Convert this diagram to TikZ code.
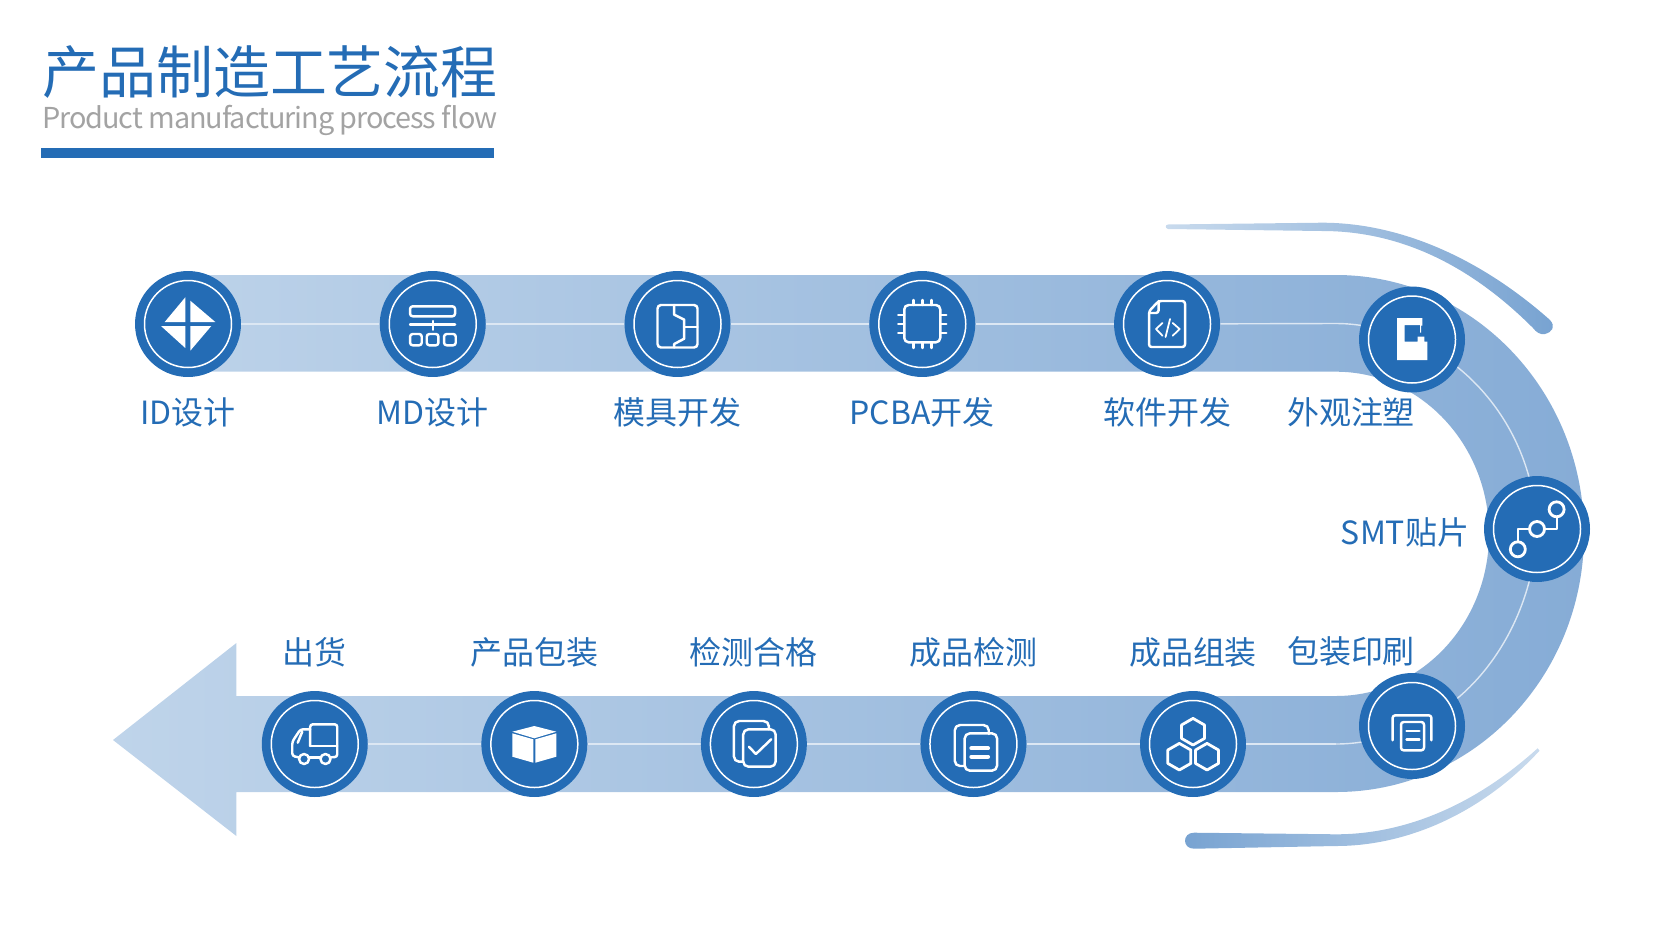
\documentclass[tikz,border=0pt]{standalone}
\usepackage{fontspec}
\usetikzlibrary{positioning,backgrounds}
\setmainfont{Noto Sans CJK SC}
\newfontfamily\subtitlefont[LetterSpace=-3.7]{Noto Sans CJK SC}
\definecolor{mainblue}{HTML}{246CB5}
\definecolor{bandleft}{HTML}{BFD4EA}
\definecolor{bandright}{HTML}{86ACD6}
\definecolor{linkwhite}{HTML}{DCE7F3}
\definecolor{subgrey}{HTML}{A3A3A3}

\begin{document}
\begin{tikzpicture}[x=0.02cm, y=-0.02cm, node distance=2.762cm]
\tikzset{
stepdot/.style    = {circle, fill=mainblue, minimum size=2.12cm, inner sep=0pt},
steplabel/.style  = {text=mainblue, font=\fontsize{18.2}{18.2}\selectfont, inner sep=0pt, text height=14pt, text depth=3pt},
ringline/.style   = {draw=white, line width=0.85pt},
linkline/.style   = {draw=linkwhite, line width=0.8pt},
iconline/.style   = {draw=white, line width=1.4pt, rounded corners=1.5pt, line cap=round, line join=round},
iconfill/.style   = {fill=white},
}
    \useasboundingbox (0,0) rectangle (1679,940);

    % Title
    \node [anchor=west, text=mainblue, inner sep=0pt, font=\fontsize{32.4}{32.4}\selectfont] (title) at (42,72) {产品制造工艺流程};
    \node [anchor=west, text=subgrey, inner sep=0pt, font=\subtitlefont\fontsize{16.4}{16.4}\selectfont] (subtitle) at (42,120) {Product manufacturing process flow};
    \fill [mainblue] (41,148) rectangle (494,158);

    % Band with arrow head
    \begin{scope}[on background layer]
    \shade [left color=bandleft, right color=bandright]
        (188,275) -- (1336,275)
        .. controls (1473,275) and (1584,391) .. (1584,534)
        .. controls (1584,677) and (1473,792) .. (1336,792)
        -- (236.4,792) -- (236.4,836) -- (113,740) -- (236.4,643) -- (236.4,696) -- (1336,696)
        .. controls (1420.5,696) and (1489,623.5) .. (1489,534)
        .. controls (1489,444.5) and (1420.5,371.7) .. (1336,371.7)
        -- (188,371.7) -- cycle;
    \end{scope}

    % Outer accents
    \shade [left color=bandleft!85!white, right color=bandright!85!mainblue]
        (1168,224.5) -- (1322,222.7)
        .. controls (1400,222.7) and (1480,258) .. (1550,320)
        .. controls (1556,327) and (1552,332) .. (1545,334)
        .. controls (1540,335) and (1536,332) .. (1533,328)
        .. controls (1470,265) and (1400,231) .. (1322,231)
        -- (1168,229) .. controls (1165,228) and (1165,225) .. (1168,224.5) -- cycle;
    \shade [left color=bandright!85!mainblue, right color=bandleft!85!white]
        (1194,832.7) -- (1336,834.3)
        .. controls (1405,834.3) and (1475,805) .. (1537.6,748.3)
        -- (1539.5,750.7)
        .. controls (1480,815) and (1405,846) .. (1336,846)
        -- (1194,848.7) .. controls (1182,848.7) and (1182,832.7) .. (1194,832.7) -- cycle;

    % Main nodes
    \node [stepdot]                    (idstep)     at (188,324) {};
    \node [stepdot, right=of idstep]   (mdstep)     {};
    \node [stepdot, right=of mdstep]   (mouldstep)  {};
    \node [stepdot, right=of mouldstep] (pcbastep)  {};
    \node [stepdot, right=of pcbastep] (softstep)   {};
    \node [stepdot]                    (injstep)    at (1412,339.5) {};
    \node [stepdot]                    (smtstep)    at (1537,529) {};
    \node [stepdot]                    (printstep)  at (1412,726) {};
    \node [stepdot]                    (asmstep)    at (1193,744) {};
    \node [stepdot, left=2.258cm of asmstep]   (teststep)  {};
    \node [stepdot, left=2.258cm of teststep]  (passstep)  {};
    \node [stepdot, left=2.258cm of passstep]  (packstep)  {};
    \node [stepdot, left=2.258cm of packstep]  (shipstep)  {};

    \foreach \n in {idstep,mdstep,mouldstep,pcbastep,softstep,injstep,smtstep,printstep,asmstep,teststep,passstep,packstep,shipstep}
        \draw [ringline] (\n) circle (43.5);

    % Labels
    \node [steplabel, below=0.45cm of idstep]    (idlabel)    {ID设计};
    \node [steplabel, below=0.45cm of mdstep]    (mdlabel)    {MD设计};
    \node [steplabel, below=0.45cm of mouldstep] (mouldlabel) {模具开发};
    \node [steplabel, below=0.45cm of pcbastep]  (pcbalabel)  {PCBA开发};
    \node [steplabel, below=0.45cm of softstep]  (softlabel)  {软件开发};
    \node [steplabel] (injlabel)   at (1351,415) {外观注塑};
    \node [steplabel] (smtlabel)   at (1405,535) {SMT贴片};
    \node [steplabel] (printlabel) at (1351,654) {包装印刷};
    \node [steplabel, above=0.42cm of asmstep]   (asmlabel)   {成品组装};
    \node [steplabel, above=0.42cm of teststep]  (testlabel)  {成品检测};
    \node [steplabel, above=0.42cm of passstep]  (passlabel)  {检测合格};
    \node [steplabel, above=0.42cm of packstep]  (packlabel)  {产品包装};
    \node [steplabel, above=0.42cm of shipstep]  (shiplabel)  {出货};

    % Main edges
    \coordinate (bendtop) at (1336,323.5);
    \coordinate (bendbot) at (1336,744);
    \begin{scope}[on background layer]
    \draw [linkline] (idstep) -- (mdstep);
    \draw [linkline] (mdstep) -- (mouldstep);
    \draw [linkline] (mouldstep) -- (pcbastep);
    \draw [linkline] (pcbastep) -- (softstep);
    \draw [linkline] (softstep) -- (bendtop);
    \draw [linkline] (bendtop) .. controls (1362,323.5) and (1388,330) .. (injstep.center);
    \draw [linkline] (injstep.center) .. controls (1485,371.6) and (1534,445) .. (smtstep.center);
    \draw [linkline] (smtstep.center) .. controls (1534,613) and (1485,696) .. (printstep.center);
    \draw [linkline] (printstep.center) .. controls (1388,738) and (1362,744) .. (bendbot);
    \draw [linkline] (bendbot) -- (asmstep);
    \draw [linkline] (asmstep) -- (teststep);
    \draw [linkline] (teststep) -- (passstep);
    \draw [linkline] (passstep) -- (packstep);
    \draw [linkline] (packstep) -- (shipstep);
    \end{scope}

    % Icons
    \begin{scope}[shift={(idstep)}]
        \fill [iconfill] (-2.7,-26.7) -- (-2.7,-2) -- (-23.3,-2) -- cycle;
        \fill [iconfill] (2.3,-23.3) -- (27.3,-2) -- (2.3,-2) -- cycle;
        \fill [iconfill] (-27,2) -- (-2.7,2) -- (-2.7,24) -- cycle;
        \fill [iconfill] (2.3,2) -- (23.3,2) -- (2.3,26.7) -- cycle;
    \end{scope}
    \begin{scope}[shift={(mdstep)}]
        \draw [iconline] (-22.7,-17.7) rectangle (22.3,-7.7);
        \draw [iconline] (-22.7,0.7) -- (22.3,0.7);
        \draw [iconline] (0,-3) -- (0,5.7);
        \draw [iconline] (-22.7,10) rectangle (-11,21.3);
        \draw [iconline] (-6,10) rectangle (5.7,21.3);
        \draw [iconline] (11.3,10) rectangle (23,21.3);
    \end{scope}
    \begin{scope}[shift={(mouldstep)}]
        \draw [iconline, rounded corners=2pt] (-20,-19) rectangle (20,23.5);
        \draw [iconline, rounded corners=0pt] (-3.3,-19) -- (-3.3,-9.3) -- (6.7,-4.3) -- (6.7,14.7) -- (-3.3,20) -- (-3.3,23.5);
        \draw [iconline] (6.7,3) -- (20,3);
    \end{scope}
    \begin{scope}[shift={(pcbastep)}]
        \draw [iconline, rounded corners=2.5pt] (-18,-19) rectangle (18,18.3);
        \foreach \p in {-9,0,9} {
            \draw [iconline] (\p,-24) -- (\p,-19);
            \draw [iconline] (\p,18.3) -- (\p,24);
            \draw [iconline] (-24,\p) -- (-18,\p);
            \draw [iconline] (18,\p) -- (24,\p);
        }
    \end{scope}
    \begin{scope}[shift={(softstep)}]
        \draw [iconline] (-8.4,-23) -- (18,-23) -- (18,23) -- (-18,23) -- (-18,-12.7) -- cycle;
        \draw [iconline] (-8.4,-23) -- (-8.4,-11) -- (-18,-11);
        \draw [iconline, line width=1pt, rounded corners=0pt] (-4.6,-1) -- (-11,5) -- (-4.6,11.7);
        \draw [iconline, line width=1pt, rounded corners=0pt] (5.7,-1) -- (12.6,5) -- (5.7,11.7);
        \draw [iconline, line width=1pt] (3,-5) -- (-1.5,13);
    \end{scope}
    \begin{scope}[shift={(injstep)}]
        \fill [iconfill] (-15,-21.5) -- (10.3,-21.5) -- (10.3,-14) -- (9,-14) -- (9,-7) -- (8,-7) -- (8,-14.5) -- (-7.5,-14.5) -- (-7.5,2.2) -- (5.7,2.2) -- (5.7,-2.8) -- (12.3,-2.8) -- (12.3,2.2) -- (15.3,2.2) -- (15.3,20.5) -- (-15,20.5) -- cycle;
    \end{scope}
    \begin{scope}[shift={(smtstep)}]
        \draw [iconline, line width=1.6pt] (-19.2,20.3) circle (7.5);
        \draw [iconline, line width=1.6pt] (0,0) circle (7.5);
        \draw [iconline, line width=1.6pt] (19.6,-19.7) circle (7.5);
        \draw [iconline, rounded corners=0pt] (-19.2,12.8) -- (-19.2,0) -- (-7.5,0);
        \draw [iconline, rounded corners=0pt] (7.5,0) -- (20,0) -- (20,-12.2);
    \end{scope}
    \begin{scope}[shift={(printstep)}]
        \draw [iconline] (-19.4,14.3) -- (-19.4,-10.7) -- (19.4,-10.7) -- (19.4,14.3);
        \draw [iconline, fill=mainblue] (-11,-4) rectangle (12,24.3);
        \draw [iconline] (-5.5,5) -- (7.4,5);
        \draw [iconline] (-5.5,13.7) -- (7.4,13.7);
    \end{scope}
    \begin{scope}[shift={(asmstep)}]
        \foreach \cx/\cy in {0/-12.3,-13.7/12.7,14/12.7}
            \draw [iconline, rounded corners=0pt, line width=1.6pt]
                (\cx+11.5,\cy-6.7) -- (\cx,\cy-13.3) -- (\cx-11.5,\cy-6.7) -- (\cx-11.5,\cy+6.7) -- (\cx,\cy+13.3) -- (\cx+11.5,\cy+6.7) -- cycle;
    \end{scope}
    \begin{scope}[shift={(teststep)}]
        \draw [iconline, rounded corners=3pt] (15.3,-10) -- (15.3,-19) -- (-18.7,-19) -- (-18.7,22) -- (-8.8,22);
        \draw [iconline, rounded corners=3pt] (-8.8,-10.7) rectangle (23.7,26.7);
        \draw [iconline, line width=2.4pt] (-2,4.3) -- (14.5,4.3);
        \draw [iconline, line width=2.4pt] (-2,12.7) -- (14.5,12.7);
    \end{scope}
    \begin{scope}[shift={(passstep)}]
        \draw [iconline, rounded corners=3pt] (15,-14.7) -- (15,-23) -- (-20,-23) -- (-20,17.7) -- (-10.7,17.7);
        \draw [iconline, rounded corners=3pt] (-10.7,-14.7) rectangle (21.8,22.7);
        \draw [iconline, rounded corners=0pt] (-5,2.7) -- (2,10) -- (17.3,-4.7);
    \end{scope}
    \begin{scope}[shift={(packstep)}]
        \fill [iconfill] (0,-18) -- (22,-12.3) -- (0,-5.7) -- (-22,-12.3) -- cycle;
        \fill [iconfill] (-22,-10.7) -- (-1,-4.7) -- (-1,18.7) -- (-22,12.7) -- cycle;
        \fill [iconfill] (1,-4.7) -- (22,-10.7) -- (22,12.7) -- (1,18.7) -- cycle;
    \end{scope}
    \begin{scope}[shift={(shipstep)}]
        \draw [iconline] (-4.6,2) -- (-4.6,-19.7) -- (22.5,-19.7) -- (22.5,13) -- (16,13.3);
        \draw [iconline] (-4.6,2) -- (22.5,2);
        \draw [iconline] (-4.6,-14.7) -- (-14.3,-14.7) -- (-22.5,-2.3) -- (-22.5,12) -- (-16,13.3);
        \draw [iconline] (-5.4,13.3) -- (5.4,13.3);
        \draw [iconline] (-12.5,-12.3) -- (-17,-1.3);
        \draw [iconline] (-10.7,15) circle (5);
        \draw [iconline] (10.7,15) circle (5);
    \end{scope}

\end{tikzpicture}
\end{document}
